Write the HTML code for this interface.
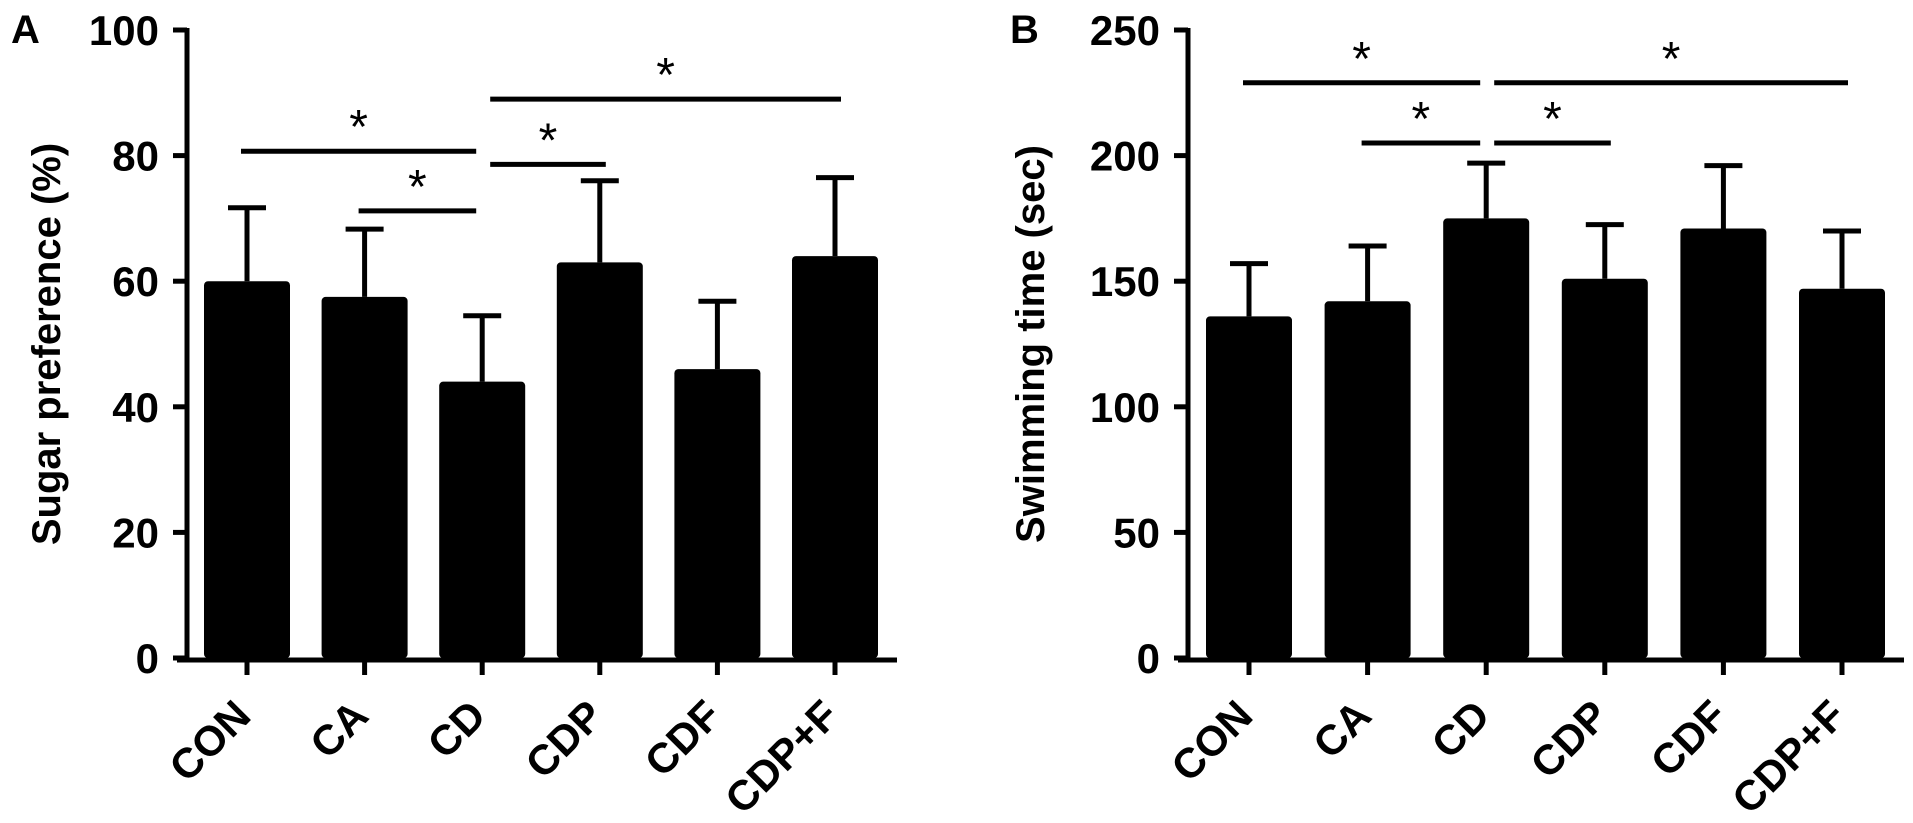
<!DOCTYPE html>
<html><head><meta charset="utf-8"><style>
html,body{margin:0;padding:0;background:#fff;}
svg{display:block;font-family:"Liberation Sans",Arial,sans-serif;}
</style></head><body>
<svg id="chart" width="1913" height="823" viewBox="0 0 1913 823"></svg>
<script>
const categories = ["CON","CA","CD","CDP","CDF","CDP+F"];
const sugarMeans = [60, 57.5, 44, 63, 46, 64];
const sugarErr = [11.7, 10.8, 10.5, 13, 10.8, 12.5];
const swimMeans = [136, 142, 175, 151, 171, 147];
const swimErr = [21, 22, 22, 21.5, 25, 23];
const ticksA = [0, 20, 40, 60, 80, 100];
const ticksB = [0, 50, 100, 150, 200, 250];
const sigA = [[0,2,80.7],[1,2,71.2],[2,3,78.6],[2,5,89]];
const sigB = [[0,2,229],[1,2,205],[2,3,205],[2,5,229]];

const NS="http://www.w3.org/2000/svg";
const svg=document.getElementById('chart');
function el(tag,attrs,parent){const e=document.createElementNS(NS,tag);for(const k in attrs)e.setAttribute(k,attrs[k]);(parent||svg).appendChild(e);return e;}

function panel(cfg){
  const g=el('g',{});
  
  
  const y0=658,yTop=30;
  const yS=v=>y0-(v/cfg.max)*(y0-yTop);
  const xS=i=>cfg.x0+i*cfg.step;
  cfg.means.forEach((m,i)=>{
    const eb=el('line',{x1:xS(i),x2:xS(i),y1:yS(m),y2:yS(m+cfg.err[i]),stroke:'#000','stroke-width':5},g);
    
    
    const cap=el('line',{x1:xS(i)-19,x2:xS(i)+19,y1:yS(m+cfg.err[i]),y2:yS(m+cfg.err[i]),stroke:'#000','stroke-width':5},g);
    
    
    const r=el('rect',{x:xS(i)-43,y:yS(m),width:86,height:y0-yS(m),rx:4,fill:'#000'},g);
    
    
  });
  const ya=el('line',{x1:cfg.ax,x2:cfg.ax,y1:yTop-2,y2:y0+2,stroke:'#000','stroke-width':5},g);
  
  
  const xa=el('line',{x1:cfg.ax-10,x2:cfg.axEnd,y1:y0+2,y2:y0+2,stroke:'#000','stroke-width':5},g);
  
  
  cfg.ticks.forEach(t=>{
    const tk=el('line',{x1:cfg.ax-14,x2:cfg.ax,y1:yS(t),y2:yS(t),stroke:'#000','stroke-width':5},g);
    
    
    const tl=el('text',{x:cfg.ax-28,y:yS(t)+15,'text-anchor':'end','font-size':42,'font-weight':'bold'},g);
    tl.textContent=t;
    
    
  });
  categories.forEach((c,i)=>{
    const tk=el('line',{x1:xS(i),x2:xS(i),y1:y0+2,y2:y0+17,stroke:'#000','stroke-width':5},g);
    
    
    const tl=el('text',{x:0,y:0,'text-anchor':'end','font-size':42,'font-weight':'bold',transform:`translate(${xS(i)+6},${y0+60}) rotate(-45)`},g);
    tl.textContent=c;
    
    
  });
  cfg.sig.forEach(s=>{
    const x1=s[0]===2?xS(2)+8:xS(s[0])-6;
    const x2=s[1]===2?xS(2)-6:xS(s[1])+6;
    const ln=el('line',{x1:x1,x2:x2,y1:yS(s[2]),y2:yS(s[2]),stroke:'#000','stroke-width':5},g);
    
    
    const st=el('text',{x:(x1+x2)/2,y:yS(s[2])-8,'text-anchor':'middle','font-size':48},g);
    st.textContent='*';
    
    
  });
  const ttl=el('text',{x:0,y:0,'text-anchor':'middle','font-size':40,'font-weight':'bold',transform:`translate(${cfg.titleX},${(y0+yTop)/2}) rotate(-90)`},g);
  ttl.textContent=cfg.title;
  
  
  const lt=el('text',{x:cfg.letterX,y:43,'font-size':40,'font-weight':'bold'},g);
  lt.textContent=cfg.letter;
  
  
}
panel({name:'panel-a',x0:247,step:117.6,ax:187,axEnd:897,max:100,means:sugarMeans,err:sugarErr,ticks:ticksA,sig:sigA,title:'Sugar preference (%)',titleX:60,letter:'A',letterX:11});
panel({name:'panel-b',x0:1249,step:118.6,ax:1188,axEnd:1904,max:250,means:swimMeans,err:swimErr,ticks:ticksB,sig:sigB,title:'Swimming time (sec)',titleX:1044,letter:'B',letterX:1010});
</script>
</body></html>
